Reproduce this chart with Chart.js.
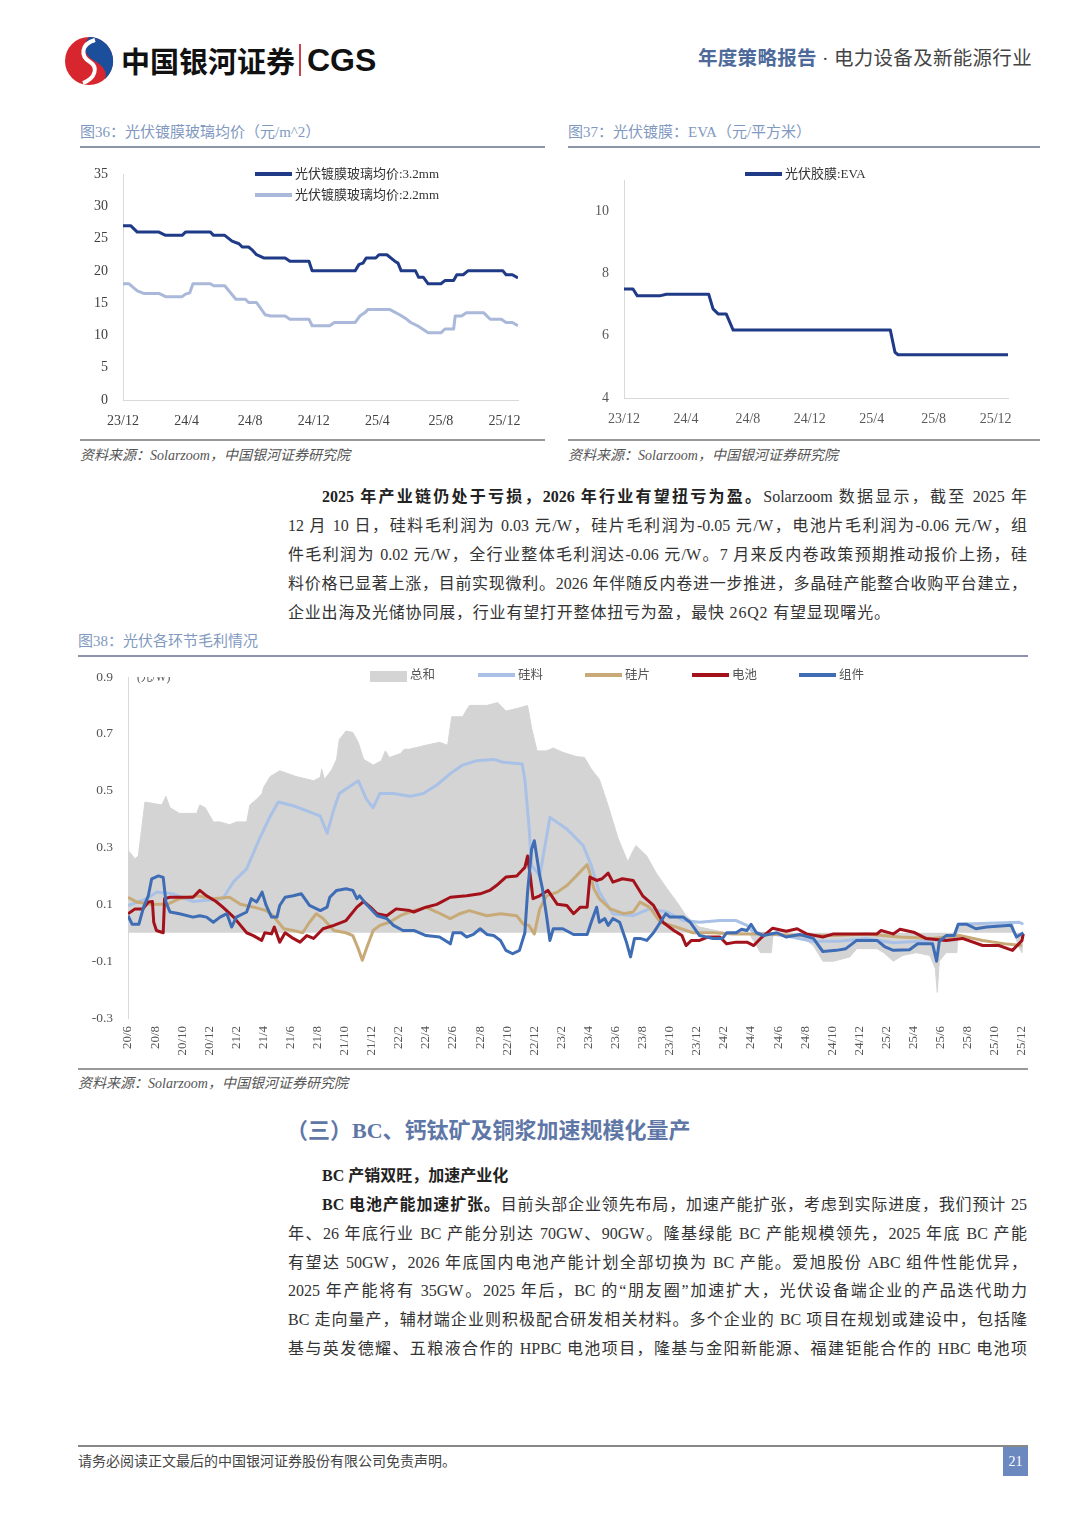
<!DOCTYPE html>
<html lang="zh-CN">
<head>
<meta charset="utf-8">
<title>光伏各环节毛利情况</title>
<script src="https://cdn.jsdelivr.net/npm/chart.js@4.4.1/dist/chart.umd.min.js"></script>
<style>
  html, body { margin: 0; padding: 0; background: #fff; }
  body {
    width: 1080px; height: 1527px; position: relative; overflow: hidden;
    font-family: "Liberation Serif", "Noto Sans CJK SC", serif; color: #333;
  }
  .abs { position: absolute; white-space: nowrap; }
  .rule { position: absolute; height: 2px; background: #8d95a8; }
  .cap { font-size: 15px; color: #8199c0; line-height: 20px; }
  .src { font-size: 14px; color: #555; font-style: italic; line-height: 18px; }
  .ln { position: absolute; font-size: 16px; line-height: 28px; white-space: nowrap;
        text-align: justify; text-align-last: justify; color: #333; }
  .ln.last { text-align-last: left; letter-spacing: 0.8px; }
  .ln b { color: #222; }
  .box { position: absolute; }
  .lg { position: absolute; white-space: nowrap; font-size: 13px; line-height: 14px; color: #333; }
  .lg i { display: inline-block; width: 37px; height: 4px; vertical-align: middle;
          margin-right: 3px; position: relative; top: -1px; }
  .lg2 { font-size: 12.5px; color: #555; }
</style>
</head>
<body>

<!-- ── Header ── -->
<svg class="abs" style="left:64px;top:36px" width="50" height="50" viewBox="0 0 50 50">
  <circle cx="25" cy="25" r="24" fill="#d7262d"/>
  <path d="M25 1 A24 24 0 0 1 41 43 C45 30 31 27 24 20 C19 14 21 6 25 1 Z" fill="#1b4f9c"/>
  <path d="M31 4 C17 8 16 20 26 26 C34 31 32 42 19 47" stroke="#fff" stroke-width="4" fill="none"/>
</svg>
<div class="abs" style="left:121px;top:40px;font:700 29px 'Noto Sans CJK SC';line-height:40px;color:#111">中国银河证券</div>
<div class="abs" style="left:299px;top:44px;width:2px;height:32px;background:#c9414a"></div>
<div class="abs" style="left:307px;top:40px;font:700 32px 'Liberation Sans';line-height:40px;color:#111">CGS</div>
<div class="abs" style="left:698px;top:47px;font-size:19.5px;line-height:24px;letter-spacing:0.3px">
  <b style="color:#4d6a9b">年度策略报告</b><span style="color:#444"> · 电力设备及新能源行业</span>
</div>

<!-- ── Fig 36 / 37 captions ── -->
<div class="abs cap" style="left:80px;top:122px">图36：光伏镀膜玻璃均价（元/m^2）</div>
<div class="rule" style="left:80px;top:146px;width:465px"></div>
<div class="abs cap" style="left:568px;top:122px">图37：光伏镀膜：EVA（元/平方米）</div>
<div class="rule" style="left:568px;top:146px;width:472px"></div>

<div class="box" style="left:80px;top:160px;width:465px;height:275px"><canvas id="glassChart"></canvas></div>
<div class="box" style="left:568px;top:160px;width:472px;height:275px"><canvas id="evaChart"></canvas></div>

<div class="lg" style="left:255px;top:167px"><i style="background:#1f3a86"></i>光伏镀膜玻璃均价:3.2mm</div>
<div class="lg" style="left:255px;top:188px"><i style="background:#aab9d9"></i>光伏镀膜玻璃均价:2.2mm</div>
<div class="lg" style="left:745px;top:167px"><i style="background:#1f3a86"></i>光伏胶膜:EVA</div>

<div class="rule" style="left:80px;top:439px;width:465px;background:#999"></div>
<div class="rule" style="left:568px;top:439px;width:472px;background:#999"></div>
<div class="abs src" style="left:80px;top:447px">资料来源：Solarzoom，中国银河证券研究院</div>
<div class="abs src" style="left:568px;top:447px">资料来源：Solarzoom，中国银河证券研究院</div>

<!-- ── Paragraph 1 ── -->
<div class="ln" style="left:322px;top:483px;width:705px"><b>2025 年产业链仍处于亏损，2026 年行业有望扭亏为盈。</b>Solarzoom 数据显示，截至 2025 年</div>
<div class="ln" style="left:288px;top:512px;width:739px">12 月 10 日，硅料毛利润为 0.03 元/W，硅片毛利润为-0.05 元/W，电池片毛利润为-0.06 元/W，组</div>
<div class="ln" style="left:288px;top:541px;width:739px">件毛利润为 0.02 元/W，全行业整体毛利润达-0.06 元/W。7 月来反内卷政策预期推动报价上扬，硅</div>
<div class="ln" style="left:288px;top:570px;width:739px">料价格已显著上涨，目前实现微利。2026 年伴随反内卷进一步推进，多晶硅产能整合收购平台建立，</div>
<div class="ln last" style="left:288px;top:599px">企业出海及光储协同展，行业有望打开整体扭亏为盈，最快 26Q2 有望显现曙光。</div>

<!-- ── Fig 38 ── -->
<div class="abs cap" style="left:78px;top:631px">图38：光伏各环节毛利情况</div>
<div class="rule" style="left:78px;top:655px;width:950px;background:#8a93b0"></div>

<div class="box" style="left:78px;top:662px;width:952px;height:405px"><canvas id="marginChart"></canvas></div>

<div class="abs" style="left:137px;top:677px;height:7px;overflow:hidden;font-size:11.5px;color:#555">
  <div style="position:relative;top:-7px;line-height:14px">(元/W)</div>
</div>
<div class="lg lg2" style="left:370px;top:668px"><i style="background:#d4d4d4;height:11px;top:0"></i>总和</div>
<div class="lg lg2" style="left:478px;top:668px"><i style="background:#a9c1e6"></i>硅料</div>
<div class="lg lg2" style="left:585px;top:668px"><i style="background:#c7aa78"></i>硅片</div>
<div class="lg lg2" style="left:692px;top:668px"><i style="background:#a3121b"></i>电池</div>
<div class="lg lg2" style="left:799px;top:668px"><i style="background:#3e6db5"></i>组件</div>

<div class="rule" style="left:78px;top:1068px;width:950px;background:#999"></div>
<div class="abs src" style="left:78px;top:1075px">资料来源：Solarzoom，中国银河证券研究院</div>

<!-- ── Section 3 ── -->
<div class="abs" style="left:286px;top:1117px;font-size:22px;line-height:28px;font-weight:700;color:#5f77a6">（三）BC、钙钛矿及铜浆加速规模化量产</div>
<div class="abs" style="left:322px;top:1163px;font-size:16px;line-height:26px;font-weight:700;color:#222">BC 产销双旺，加速产业化</div>

<div class="ln" style="left:322px;top:1191px;width:705px"><b>BC 电池产能加速扩张。</b>目前头部企业领先布局，加速产能扩张，考虑到实际进度，我们预计 25</div>
<div class="ln" style="left:288px;top:1220px;width:739px">年、26 年底行业 BC 产能分别达 70GW、90GW。隆基绿能 BC 产能规模领先，2025 年底 BC 产能</div>
<div class="ln" style="left:288px;top:1249px;width:739px">有望达 50GW，2026 年底国内电池产能计划全部切换为 BC 产能。爱旭股份 ABC 组件性能优异，</div>
<div class="ln" style="left:288px;top:1277px;width:739px">2025 年产能将有 35GW。2025 年后，BC 的“朋友圈”加速扩大，光伏设备端企业的产品迭代助力</div>
<div class="ln" style="left:288px;top:1306px;width:739px">BC 走向量产，辅材端企业则积极配合研发相关材料。多个企业的 BC 项目在规划或建设中，包括隆</div>
<div class="ln" style="left:288px;top:1335px;width:739px">基与英发德耀、五粮液合作的 HPBC 电池项目，隆基与金阳新能源、福建钜能合作的 HBC 电池项</div>

<!-- ── Footer ── -->
<div class="rule" style="left:78px;top:1445px;width:950px;height:1.5px;background:#888"></div>
<div class="abs" style="left:78px;top:1453px;font-size:14px;line-height:18px;color:#444">请务必阅读正文最后的中国银河证券股份有限公司免责声明。</div>
<div class="abs" style="left:1003px;top:1447px;width:25px;height:29px;background:#6b88bf;color:#fff;font-size:14px;line-height:29px;text-align:center">21</div>

<script>
/* =============================================
   Fig 36 / 37 / 38 — data (x in months from the first tick)
   ============================================= */

/* ── Fig 36: coated glass price (元/m^2), months from 23/12 ── */
const glassTickMonths = [0, 4, 8, 12, 16, 20, 24];
const glassTickLabels = ['23/12', '24/4', '24/8', '24/12', '25/4', '25/8', '25/12'];

const glass32Months = [0, 0.48, 0.9, 2.26, 2.68, 3.72, 3.93, 5.5, 5.7, 6.4,
    6.86, 7.3, 7.5, 7.9, 8.1, 8.4, 8.85, 10.2, 10.5, 11.7,
    11.9, 14.6, 14.85, 15.1, 15.3, 15.9, 16.1, 16.6, 17.1, 17.3,
    17.5, 18.4, 18.6, 18.9, 19.2, 20.0, 20.25, 20.8, 21.0, 21.4,
    21.7, 23.9, 24.1, 24.5, 24.85];
const glass32 = [27.0, 27.0, 26.0, 26.0, 25.5, 25.5, 26.0, 26.0, 25.5, 25.5,
    24.6, 24.2, 23.7, 23.7, 23.3, 22.5, 22.0, 22.0, 21.5, 21.5,
    20.0, 20.0, 21.0, 21.2, 22.0, 22.0, 22.5, 22.5, 21.5, 21.2,
    20.0, 20.0, 19.0, 19.0, 18.0, 18.0, 18.5, 18.5, 19.4, 19.4,
    20.0, 20.0, 19.4, 19.4, 18.9];

const glass22Months = [0, 0.38, 0.9, 1.3, 2.26, 2.68, 3.72, 3.93, 4.2, 4.4,
    5.5, 5.7, 6.4, 7.1, 7.7, 7.9, 8.4, 8.95, 9.3, 10.2,
    10.5, 11.7, 11.9, 13.0, 13.3, 14.6, 14.9, 15.2, 15.4, 16.8,
    17.4, 17.8, 18.1, 18.6, 19.2, 20.0, 20.25, 20.8, 20.9, 21.3,
    21.6, 22.7, 23.1, 23.8, 24.1, 24.5, 24.85];
const glass22 = [18.0, 18.0, 16.9, 16.5, 16.5, 16.0, 16.0, 16.4, 16.6, 18.0,
    18.0, 17.7, 17.7, 15.6, 15.6, 15.1, 15.1, 13.2, 13.0, 13.0,
    12.5, 12.5, 11.5, 11.5, 12.0, 12.0, 13.0, 13.5, 14.0, 14.0,
    13.2, 12.6, 12.0, 11.4, 10.4, 10.4, 11.0, 11.0, 13.0, 13.0,
    13.5, 13.5, 12.5, 12.5, 12.0, 12.0, 11.5];

/* ── Fig 37: EVA film (元/平方米) ── */
const evaMonths = [0, 0.58, 0.86, 2.3, 2.74, 5.47, 5.75, 6.08, 6.6, 7.05, 17.2, 17.5, 17.7, 24.8];
const evaPrice  = [7.5, 7.5, 7.28, 7.28, 7.33, 7.33, 6.86, 6.7, 6.7, 6.18, 6.18, 5.47, 5.39, 5.39];
const evaTicks  = [4, 6, 8, 10];

/* ── Fig 38: gross margin by segment (元/W), months from 20/6 ── */
const marginTickLabels = ['20/6', '20/8', '20/10', '20/12', '21/2', '21/4', '21/6', '21/8', '21/10', '21/12',
    '22/2', '22/4', '22/6', '22/8', '22/10', '22/12', '23/2', '23/4', '23/6', '23/8',
    '23/10', '23/12', '24/2', '24/4', '24/6', '24/8', '24/10', '24/12', '25/2', '25/4',
    '25/6', '25/8', '25/10', '25/12'];
const marginYTicks = [-0.3, -0.1, 0.1, 0.3, 0.5, 0.7, 0.9];

const totalMonths = [0, 0.52, 0.76, 1.25, 2.5, 2.8, 3.1, 3.8, 5.07, 5.3,
    5.7, 6.3, 6.8, 7.5, 8.0, 8.76, 9.0, 9.5, 9.9, 10.0,
    10.5, 11.2, 12.4, 13.7, 14.2, 14.3, 14.5, 15.0, 15.4, 15.6,
    16.1, 16.6, 17.0, 17.4, 18.1, 18.7, 19.0, 19.3, 20.1, 20.4,
    20.8, 22.0, 23.0, 23.6, 23.9, 24.7, 25.2, 26.0, 26.5, 27.3,
    27.9, 28.8, 29.5, 29.8, 30.2, 30.9, 31.4, 32.1, 33.1, 33.7,
    34.2, 34.8, 35.45, 36.2, 36.9, 37.2, 37.5, 38.3, 39.0, 39.8,
    40.5, 41.2, 42.2, 44.2, 45.7, 46.4, 46.7, 47.5, 47.6, 48.1,
    49.6, 50.6, 51.3, 52.1, 53.3, 53.8, 55.3, 55.8, 56.5, 57.2,
    58.2, 59.2, 59.6, 59.75, 59.9, 60.4, 61.2, 61.3, 61.9, 63.6,
    65.3, 65.7, 66.0, 66.1];
const totalMargin = [0.29, 0.26, 0.27, 0.46, 0.45, 0.48, 0.44, 0.42, 0.42, 0.45,
    0.44, 0.39, 0.39, 0.38, 0.39, 0.39, 0.45, 0.47, 0.49, 0.51,
    0.55, 0.57, 0.55, 0.535, 0.547, 0.576, 0.54, 0.57, 0.61, 0.68,
    0.71, 0.705, 0.67, 0.61, 0.59, 0.605, 0.64, 0.617, 0.63, 0.646,
    0.646, 0.66, 0.67, 0.66, 0.76, 0.76, 0.80, 0.80, 0.80, 0.81,
    0.78, 0.79, 0.80, 0.72, 0.64, 0.64, 0.65, 0.635, 0.62, 0.617,
    0.576, 0.54, 0.447, 0.33, 0.25, 0.28, 0.307, 0.27, 0.21, 0.155,
    0.11, 0.06, 0.02, 0.0, 0.01, -0.045, -0.07, -0.07, -0.015, 0.01,
    -0.01, -0.045, -0.10, -0.10, -0.085, -0.056, -0.056, -0.07, -0.10, -0.08,
    -0.07, -0.08, -0.125, -0.21, -0.10, -0.07, -0.07, 0.026, 0.03, 0.026,
    0.037, -0.045, -0.07, 0.0];

const siliconMonths = [0, 1.4, 2.1, 3.3, 4.8, 7.0, 7.8, 8.76, 9.7, 10.5,
    11.1, 12.2, 13.7, 14.2, 14.7, 15.2, 15.6, 17.0, 17.6, 18.1,
    18.6, 19.6, 20.8, 21.8, 22.8, 23.8, 24.7, 25.7, 27.0, 27.7,
    29.1, 29.3, 29.6, 29.8, 30.4, 31.15, 32.4, 33.6, 34.2, 34.8,
    35.8, 37.3, 38.5, 39.8, 41.0, 42.2, 43.7, 44.9, 45.7, 46.2,
    48.5, 50.5, 52.5, 54.5, 56.5, 58.5, 60.5, 61.0, 61.3, 65.8, 66.1];
const siliconMargin = [0.096, 0.12, 0.143, 0.137, 0.11, 0.12, 0.18, 0.225, 0.33, 0.41,
    0.46, 0.447, 0.42, 0.41, 0.35, 0.435, 0.49, 0.535, 0.47, 0.44,
    0.49, 0.49, 0.48, 0.49, 0.52, 0.56, 0.59, 0.605, 0.61, 0.60,
    0.594, 0.54, 0.377, 0.237, 0.20, 0.406, 0.365, 0.307, 0.237, 0.143,
    0.067, 0.06, 0.084, 0.073, 0.043, 0.037, 0.043, 0.043, 0.026, 0.0,
    -0.01, -0.03, -0.03, -0.02, -0.035, -0.03, -0.02, -0.01, 0.03, 0.037, 0.03];

const waferMonths = [0, 0.66, 1.6, 2.9, 3.8, 5.1, 6.3, 7.5, 8.3, 9.3,
    10.2, 10.7, 11.5, 12.2, 12.9, 13.4, 13.9, 14.4, 15.2, 16.1,
    16.6, 17.0, 17.3, 17.6, 18.1, 18.6, 19.3, 20.1, 20.8, 22.0,
    22.8, 23.8, 24.5, 25.2, 26.5, 27.5, 28.7, 29.2, 29.6, 30.0,
    30.4, 30.9, 31.7, 32.4, 33.1, 33.9, 34.1, 34.4, 34.8, 35.6,
    36.6, 37.3, 37.8, 38.5, 39.3, 40.5, 41.7, 43.2, 44.7, 47.1,
    49.6, 52.1, 54.5, 57.0, 59.4, 61.4, 63.1, 64.9, 66.0];
const waferMargin = [0.125, 0.108, 0.10, 0.10, 0.12, 0.13, 0.12, 0.125, 0.10, 0.09,
    0.078, 0.06, 0.014, 0.008, 0.0, 0.037, 0.067, 0.05, 0.008, 0.0,
    -0.01, -0.056, -0.097, -0.056, 0.008, 0.026, 0.037, 0.06, 0.073, 0.09,
    0.073, 0.05, 0.067, 0.078, 0.06, 0.067, 0.06, 0.03, 0.026, -0.004,
    0.084, 0.13, 0.143, 0.166, 0.20, 0.24, 0.21, 0.155, 0.12, 0.084,
    0.067, 0.073, 0.108, 0.09, 0.037, 0.02, 0.0, 0.0, -0.004, -0.004,
    -0.01, -0.01, -0.004, -0.015, -0.02, -0.01, -0.027, -0.04, -0.045];

const cellMonths = [0, 0.52, 1.1, 1.5, 1.8, 1.9, 2.1, 2.6, 2.7, 3.1,
    4.8, 5.3, 5.8, 6.5, 7.0, 7.8, 8.76, 9.25, 9.87, 10.1,
    10.6, 10.8, 11.2, 11.6, 12.2, 12.7, 13.2, 13.7, 14.4, 15.2,
    16.1, 16.9, 17.4, 17.9, 18.4, 19.1, 19.8, 20.8, 21.1, 22.0,
    22.8, 23.8, 25.0, 26.0, 26.7, 27.2, 27.9, 28.7, 29.1, 29.3,
    29.5, 29.7, 29.9, 30.4, 31.0, 31.7, 32.4, 32.9, 33.4, 33.9,
    34.1, 34.6, 35.0, 35.45, 35.8, 36.5, 37.3, 38.0, 38.8, 39.5,
    40.3, 40.9, 41.2, 41.6, 42.2, 42.8, 43.7, 44.2, 44.9, 45.7,
    46.2, 46.7, 47.6, 48.6, 49.4, 50.1, 51.3, 52.1, 55.3, 55.6,
    56.5, 57.0, 58.0, 58.9, 60.4, 61.6, 63.1, 64.3, 65.3, 66.0, 66.1];
const cellMargin = [0.067, 0.084, 0.084, 0.108, 0.11, 0.037, 0.008, 0.0, 0.12, 0.125,
    0.125, 0.149, 0.13, 0.11, 0.09, 0.055, 0.0, -0.01, -0.027, 0.0,
    -0.004, 0.02, -0.033, 0.0, -0.02, -0.033, -0.01, -0.02, 0.014, 0.026,
    0.043, 0.09, 0.11, 0.09, 0.067, 0.06, 0.084, 0.078, 0.073, 0.09,
    0.10, 0.125, 0.13, 0.137, 0.149, 0.166, 0.196, 0.20, 0.22, 0.23,
    0.27, 0.20, 0.12, 0.13, 0.149, 0.10, 0.096, 0.067, 0.09, 0.09,
    0.196, 0.184, 0.19, 0.21, 0.178, 0.19, 0.184, 0.13, 0.096, 0.037,
    0.008, -0.01, -0.045, -0.027, -0.027, -0.015, -0.015, -0.039, -0.033, -0.033,
    -0.045, -0.02, 0.016, 0.005, 0.014, -0.004, -0.015, -0.004, -0.004, 0.008,
    -0.004, 0.012, 0.002, -0.02, -0.027, -0.02, -0.045, -0.045, -0.062, -0.027, -0.004];

const moduleMonths = [0, 0.3, 0.8, 1.15, 1.5, 1.75, 2.25, 2.6, 2.8, 3.1,
    3.8, 4.8, 5.3, 5.8, 6.3, 6.8, 7.3, 7.65, 8.0, 8.76,
    9.1, 9.5, 9.9, 10.2, 10.6, 11.0, 11.2, 11.6, 12.2, 12.8,
    13.4, 14.2, 14.7, 14.9, 15.4, 16.1, 16.6, 16.9, 17.1, 17.6,
    18.4, 19.1, 19.6, 20.3, 21.1, 22.0, 23.0, 23.8, 24.0, 24.6,
    25.0, 25.5, 26.0, 26.5, 27.0, 27.5, 27.9, 28.4, 28.9, 29.3,
    29.5, 29.8, 30.0, 30.4, 30.6, 30.9, 31.15, 31.4, 32.1, 32.9,
    33.9, 34.2, 34.6, 34.8, 35.2, 35.45, 35.8, 36.3, 36.8, 37.1,
    37.4, 37.8, 38.3, 38.8, 39.3, 39.7, 40.0, 41.0, 41.5, 42.2,
    43.2, 43.9, 44.2, 44.9, 45.3, 45.7, 46.0, 46.4, 46.9, 47.9,
    48.6, 49.6, 50.6, 51.3, 52.3, 53.0, 53.8, 55.3, 55.9, 56.5,
    57.7, 58.3, 59.4, 59.7, 59.9, 60.4, 61.0, 61.3, 61.9, 62.6,
    63.4, 65.2, 65.6, 66.1];
const moduleMargin = [0.06, 0.03, 0.03, 0.09, 0.13, 0.19, 0.20, 0.195, 0.108, 0.073,
    0.067, 0.055, 0.06, 0.055, 0.037, 0.055, 0.067, 0.02, 0.055, 0.073,
    0.12, 0.108, 0.143, 0.096, 0.055, 0.055, 0.096, 0.125, 0.13, 0.137,
    0.096, 0.078, 0.09, 0.125, 0.149, 0.155, 0.149, 0.12, 0.13, 0.10,
    0.06, 0.05, 0.026, 0.008, 0.008, -0.01, -0.015, -0.039, 0.0, 0.0,
    -0.015, -0.006, 0.014, -0.006, -0.01, -0.027, -0.062, -0.074, -0.062, 0.0,
    0.143, 0.295, 0.324, 0.20, 0.155, 0.06, -0.027, 0.014, 0.014, -0.006,
    -0.006, 0.037, 0.09, 0.037, 0.05, 0.026, 0.05, 0.037, -0.033, -0.085,
    -0.02, -0.02, -0.027, 0.0, 0.037, 0.067, 0.055, 0.055, 0.037, -0.01,
    -0.02, -0.02, 0.0, 0.0, 0.012, 0.008, 0.03, 0.0, -0.01, 0.0,
    -0.015, -0.006, -0.02, -0.066, -0.062, -0.056, -0.027, -0.027, -0.05, -0.062,
    -0.06, -0.039, -0.039, -0.10, -0.03, -0.01, -0.01, 0.03, 0.03, 0.014,
    0.02, 0.026, -0.015, 0.0];

/* ── Helpers ── */
function xy(months, values) {
    return months.map((m, i) => ({ x: m, y: values[i] }));
}

function labelMonth(label) {
    const [yy, mm] = label.split('/').map(Number);
    return (yy - 20) * 12 + (mm - 6);
}

// fixed axis sizes, and no extra room reserved for edge labels
const fitY = w => s => { s.width = w;  s.paddingTop = 0;  s.paddingBottom = 0; };
const fitX = h => s => { s.height = h; s.paddingLeft = 0; s.paddingRight = 0; };

const tickFont  = { family: 'Liberation Serif', size: 14 };
const tickColor = '#404040';
const axisLine  = { display: true, color: '#d9d9d9', width: 1 };
const noGrid    = { display: false, drawTicks: false };

function lineSet(label, data, color, width) {
    return {
        label, data,
        borderColor: color, backgroundColor: color,
        borderWidth: width, pointRadius: 0, tension: 0,
        borderJoinStyle: 'round', fill: false
    };
}

Chart.defaults.animation = false;
Chart.defaults.plugins.legend.display  = false;
Chart.defaults.plugins.tooltip.enabled = false;

/* ── Fig 36 ── */
new Chart(document.getElementById('glassChart'), {
    type: 'line',
    data: {
        datasets: [
            lineSet('光伏镀膜玻璃均价:3.2mm', xy(glass32Months, glass32), '#1f3a86', 3),
            lineSet('光伏镀膜玻璃均价:2.2mm', xy(glass22Months, glass22), '#aab9d9', 3)
        ]
    },
    options: {
        responsive: true, maintainAspectRatio: false,
        layout: { padding: { top: 14, right: 27, left: 0, bottom: 0 } },
        scales: {
            x: {
                type: 'linear', min: 0, max: 24.85,
                afterBuildTicks: s => { s.ticks = glassTickMonths.map(v => ({ value: v })); },
                afterFit: fitX(35),
                ticks: { autoSkip: false, maxRotation: 0, padding: 13, font: tickFont, color: tickColor,
                         callback: (v, i) => glassTickLabels[i] },
                grid: noGrid, border: axisLine
            },
            y: {
                min: 0, max: 35,
                ticks: { stepSize: 5, padding: 15, font: tickFont, color: tickColor },
                afterFit: fitY(43),
                grid: noGrid, border: axisLine
            }
        }
    }
});

/* ── Fig 37 ── */
new Chart(document.getElementById('evaChart'), {
    type: 'line',
    data: {
        datasets: [ lineSet('光伏胶膜:EVA', xy(evaMonths, evaPrice), '#1f3a86', 3) ]
    },
    options: {
        responsive: true, maintainAspectRatio: false,
        layout: { padding: { top: 20, right: 32, left: 0, bottom: 0 } },
        scales: {
            x: {
                type: 'linear', min: 0, max: 24.8,
                afterBuildTicks: s => { s.ticks = glassTickMonths.map(v => ({ value: v })); },
                afterFit: fitX(37),
                ticks: { autoSkip: false, maxRotation: 0, padding: 13, font: tickFont, color: '#595959',
                         callback: (v, i) => glassTickLabels[i] },
                grid: noGrid, border: axisLine
            },
            y: {
                min: 4, max: 11,
                afterBuildTicks: s => { s.ticks = evaTicks.map(v => ({ value: v })); },
                afterFit: fitY(56),
                ticks: { padding: 15, font: tickFont, color: '#595959' },
                grid: noGrid, border: axisLine
            }
        }
    }
});

/* ── Fig 38 ── */
const marginTickMonths = marginTickLabels.map(labelMonth);

new Chart(document.getElementById('marginChart'), {
    type: 'line',
    data: {
        datasets: [
            { ...lineSet('组件', xy(moduleMonths, moduleMargin), '#3e6db5', 3), order: 1 },
            { ...lineSet('电池', xy(cellMonths, cellMargin), '#a3121b', 3), order: 2 },
            { ...lineSet('硅片', xy(waferMonths, waferMargin), '#c7aa78', 3), order: 3 },
            { ...lineSet('硅料', xy(siliconMonths, siliconMargin), '#a9c1e6', 3), order: 4 },
            {
                label: '总和', data: xy(totalMonths, totalMargin), order: 5,
                borderColor: '#d4d4d4', backgroundColor: '#d4d4d4', borderWidth: 1,
                pointRadius: 0, tension: 0, fill: 'origin'
            }
        ]
    },
    options: {
        responsive: true, maintainAspectRatio: false,
        layout: { padding: { top: 15, right: 4, left: 0, bottom: 0 } },
        scales: {
            x: {
                type: 'linear', min: 0, max: 66.3,
                afterBuildTicks: s => { s.ticks = marginTickMonths.map(v => ({ value: v })); },
                afterFit: fitX(49),
                ticks: { autoSkip: false, minRotation: 90, maxRotation: 90, padding: 8,
                         font: { family: 'Liberation Serif', size: 13 }, color: '#555',
                         callback: (v, i) => marginTickLabels[i] },
                grid: noGrid, border: { display: false }
            },
            y: {
                min: -0.3, max: 0.9,
                afterBuildTicks: s => { s.ticks = marginYTicks.map(v => ({ value: v })); },
                afterFit: fitY(50),
                ticks: { padding: 15, font: { family: 'Liberation Serif', size: 13.5 }, color: '#555',
                         callback: v => v.toFixed(1) },
                grid: noGrid, border: axisLine
            }
        }
    }
});
</script>
</body>
</html>
